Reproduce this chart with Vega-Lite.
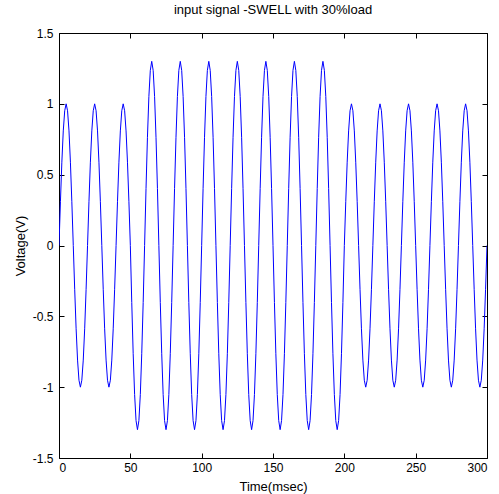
{
  "$schema": "https://vega.github.io/schema/vega-lite/v6.json",
  "autosize": "none",
  "width": 428,
  "height": 425,
  "padding": {"left": 59, "top": 33, "right": 12, "bottom": 36},
  "background": "white",
  "config": {
    "view": {"stroke": "#000", "strokeWidth": 1},
    "font": "Liberation Sans",
    "axis": {
      "domain": false, "grid": false, "ticks": true, "tickColor": "#000", "tickWidth": 1, "tickSize": 5, "offset": -5, "zindex": 2,
      "labelColor": "#000", "labelFont": "Liberation Sans", "labelFontSize": 12,
      "titleColor": "#000", "titleFont": "Liberation Sans", "titleFontSize": 13, "titleFontWeight": "normal"
    }
  },
  "title": {"text": "input signal -SWELL with 30%load", "font": "Liberation Sans", "fontSize": 13, "fontWeight": "normal", "color": "#000", "offset": 10},
  "data": {"values": [
{"t":0,"v":0},{"t":1,"v":0.309},{"t":2,"v":0.588},{"t":3,"v":0.809},{"t":4,"v":0.951},{"t":5,"v":1},{"t":6,"v":0.951},{"t":7,"v":0.809},{"t":8,"v":0.588},{"t":9,"v":0.309},
{"t":10,"v":0},{"t":11,"v":-0.309},{"t":12,"v":-0.588},{"t":13,"v":-0.809},{"t":14,"v":-0.951},{"t":15,"v":-1},{"t":16,"v":-0.951},{"t":17,"v":-0.809},{"t":18,"v":-0.588},{"t":19,"v":-0.309},
{"t":20,"v":0},{"t":21,"v":0.309},{"t":22,"v":0.588},{"t":23,"v":0.809},{"t":24,"v":0.951},{"t":25,"v":1},{"t":26,"v":0.951},{"t":27,"v":0.809},{"t":28,"v":0.588},{"t":29,"v":0.309},
{"t":30,"v":0},{"t":31,"v":-0.309},{"t":32,"v":-0.588},{"t":33,"v":-0.809},{"t":34,"v":-0.951},{"t":35,"v":-1},{"t":36,"v":-0.951},{"t":37,"v":-0.809},{"t":38,"v":-0.588},{"t":39,"v":-0.309},
{"t":40,"v":0},{"t":41,"v":0.309},{"t":42,"v":0.588},{"t":43,"v":0.809},{"t":44,"v":0.951},{"t":45,"v":1},{"t":46,"v":0.951},{"t":47,"v":0.809},{"t":48,"v":0.588},{"t":49,"v":0.309},
{"t":50,"v":0},{"t":51,"v":-0.402},{"t":52,"v":-0.764},{"t":53,"v":-1.052},{"t":54,"v":-1.236},{"t":55,"v":-1.3},{"t":56,"v":-1.236},{"t":57,"v":-1.052},{"t":58,"v":-0.764},{"t":59,"v":-0.402},
{"t":60,"v":0},{"t":61,"v":0.402},{"t":62,"v":0.764},{"t":63,"v":1.052},{"t":64,"v":1.236},{"t":65,"v":1.3},{"t":66,"v":1.236},{"t":67,"v":1.052},{"t":68,"v":0.764},{"t":69,"v":0.402},
{"t":70,"v":0},{"t":71,"v":-0.402},{"t":72,"v":-0.764},{"t":73,"v":-1.052},{"t":74,"v":-1.236},{"t":75,"v":-1.3},{"t":76,"v":-1.236},{"t":77,"v":-1.052},{"t":78,"v":-0.764},{"t":79,"v":-0.402},
{"t":80,"v":0},{"t":81,"v":0.402},{"t":82,"v":0.764},{"t":83,"v":1.052},{"t":84,"v":1.236},{"t":85,"v":1.3},{"t":86,"v":1.236},{"t":87,"v":1.052},{"t":88,"v":0.764},{"t":89,"v":0.402},
{"t":90,"v":0},{"t":91,"v":-0.402},{"t":92,"v":-0.764},{"t":93,"v":-1.052},{"t":94,"v":-1.236},{"t":95,"v":-1.3},{"t":96,"v":-1.236},{"t":97,"v":-1.052},{"t":98,"v":-0.764},{"t":99,"v":-0.402},
{"t":100,"v":0},{"t":101,"v":0.402},{"t":102,"v":0.764},{"t":103,"v":1.052},{"t":104,"v":1.236},{"t":105,"v":1.3},{"t":106,"v":1.236},{"t":107,"v":1.052},{"t":108,"v":0.764},{"t":109,"v":0.402},
{"t":110,"v":0},{"t":111,"v":-0.402},{"t":112,"v":-0.764},{"t":113,"v":-1.052},{"t":114,"v":-1.236},{"t":115,"v":-1.3},{"t":116,"v":-1.236},{"t":117,"v":-1.052},{"t":118,"v":-0.764},{"t":119,"v":-0.402},
{"t":120,"v":0},{"t":121,"v":0.402},{"t":122,"v":0.764},{"t":123,"v":1.052},{"t":124,"v":1.236},{"t":125,"v":1.3},{"t":126,"v":1.236},{"t":127,"v":1.052},{"t":128,"v":0.764},{"t":129,"v":0.402},
{"t":130,"v":0},{"t":131,"v":-0.402},{"t":132,"v":-0.764},{"t":133,"v":-1.052},{"t":134,"v":-1.236},{"t":135,"v":-1.3},{"t":136,"v":-1.236},{"t":137,"v":-1.052},{"t":138,"v":-0.764},{"t":139,"v":-0.402},
{"t":140,"v":0},{"t":141,"v":0.402},{"t":142,"v":0.764},{"t":143,"v":1.052},{"t":144,"v":1.236},{"t":145,"v":1.3},{"t":146,"v":1.236},{"t":147,"v":1.052},{"t":148,"v":0.764},{"t":149,"v":0.402},
{"t":150,"v":0},{"t":151,"v":-0.402},{"t":152,"v":-0.764},{"t":153,"v":-1.052},{"t":154,"v":-1.236},{"t":155,"v":-1.3},{"t":156,"v":-1.236},{"t":157,"v":-1.052},{"t":158,"v":-0.764},{"t":159,"v":-0.402},
{"t":160,"v":0},{"t":161,"v":0.402},{"t":162,"v":0.764},{"t":163,"v":1.052},{"t":164,"v":1.236},{"t":165,"v":1.3},{"t":166,"v":1.236},{"t":167,"v":1.052},{"t":168,"v":0.764},{"t":169,"v":0.402},
{"t":170,"v":0},{"t":171,"v":-0.402},{"t":172,"v":-0.764},{"t":173,"v":-1.052},{"t":174,"v":-1.236},{"t":175,"v":-1.3},{"t":176,"v":-1.236},{"t":177,"v":-1.052},{"t":178,"v":-0.764},{"t":179,"v":-0.402},
{"t":180,"v":0},{"t":181,"v":0.402},{"t":182,"v":0.764},{"t":183,"v":1.052},{"t":184,"v":1.236},{"t":185,"v":1.3},{"t":186,"v":1.236},{"t":187,"v":1.052},{"t":188,"v":0.764},{"t":189,"v":0.402},
{"t":190,"v":0},{"t":191,"v":-0.402},{"t":192,"v":-0.764},{"t":193,"v":-1.052},{"t":194,"v":-1.236},{"t":195,"v":-1.3},{"t":196,"v":-1.236},{"t":197,"v":-1.052},{"t":198,"v":-0.764},{"t":199,"v":-0.402},
{"t":200,"v":0},{"t":201,"v":0.309},{"t":202,"v":0.588},{"t":203,"v":0.809},{"t":204,"v":0.951},{"t":205,"v":1},{"t":206,"v":0.951},{"t":207,"v":0.809},{"t":208,"v":0.588},{"t":209,"v":0.309},
{"t":210,"v":0},{"t":211,"v":-0.309},{"t":212,"v":-0.588},{"t":213,"v":-0.809},{"t":214,"v":-0.951},{"t":215,"v":-1},{"t":216,"v":-0.951},{"t":217,"v":-0.809},{"t":218,"v":-0.588},{"t":219,"v":-0.309},
{"t":220,"v":0},{"t":221,"v":0.309},{"t":222,"v":0.588},{"t":223,"v":0.809},{"t":224,"v":0.951},{"t":225,"v":1},{"t":226,"v":0.951},{"t":227,"v":0.809},{"t":228,"v":0.588},{"t":229,"v":0.309},
{"t":230,"v":0},{"t":231,"v":-0.309},{"t":232,"v":-0.588},{"t":233,"v":-0.809},{"t":234,"v":-0.951},{"t":235,"v":-1},{"t":236,"v":-0.951},{"t":237,"v":-0.809},{"t":238,"v":-0.588},{"t":239,"v":-0.309},
{"t":240,"v":0},{"t":241,"v":0.309},{"t":242,"v":0.588},{"t":243,"v":0.809},{"t":244,"v":0.951},{"t":245,"v":1},{"t":246,"v":0.951},{"t":247,"v":0.809},{"t":248,"v":0.588},{"t":249,"v":0.309},
{"t":250,"v":0},{"t":251,"v":-0.309},{"t":252,"v":-0.588},{"t":253,"v":-0.809},{"t":254,"v":-0.951},{"t":255,"v":-1},{"t":256,"v":-0.951},{"t":257,"v":-0.809},{"t":258,"v":-0.588},{"t":259,"v":-0.309},
{"t":260,"v":0},{"t":261,"v":0.309},{"t":262,"v":0.588},{"t":263,"v":0.809},{"t":264,"v":0.951},{"t":265,"v":1},{"t":266,"v":0.951},{"t":267,"v":0.809},{"t":268,"v":0.588},{"t":269,"v":0.309},
{"t":270,"v":0},{"t":271,"v":-0.309},{"t":272,"v":-0.588},{"t":273,"v":-0.809},{"t":274,"v":-0.951},{"t":275,"v":-1},{"t":276,"v":-0.951},{"t":277,"v":-0.809},{"t":278,"v":-0.588},{"t":279,"v":-0.309},
{"t":280,"v":0},{"t":281,"v":0.309},{"t":282,"v":0.588},{"t":283,"v":0.809},{"t":284,"v":0.951},{"t":285,"v":1},{"t":286,"v":0.951},{"t":287,"v":0.809},{"t":288,"v":0.588},{"t":289,"v":0.309},
{"t":290,"v":0},{"t":291,"v":-0.309},{"t":292,"v":-0.588},{"t":293,"v":-0.809},{"t":294,"v":-0.951},{"t":295,"v":-1},{"t":296,"v":-0.951},{"t":297,"v":-0.809},{"t":298,"v":-0.588},{"t":299,"v":-0.309},
{"t":300,"v":0}
  ]},
  "layer": [
    {
      "mark": {"type": "line", "color": "#0000ff", "strokeWidth": 1, "clip": true},
      "encoding": {
        "x": {"field": "t", "type": "quantitative", "scale": {"domain": [0, 300], "nice": false},
              "axis": {"orient": "bottom", "values": [0, 50, 100, 150, 200, 250, 300], "labelPadding": 4, "title": "Time(msec)", "titlePadding": 7}},
        "y": {"field": "v", "type": "quantitative", "scale": {"domain": [-1.5, 1.5], "nice": false},
              "axis": {"orient": "left", "values": [-1.5, -1, -0.5, 0, 0.5, 1, 1.5], "labelExpr": "'' + datum.value", "labelPadding": 6, "title": "Voltage(V)", "titlePadding": 5}}
      }
    },
    {
      "mark": {"type": "line", "strokeOpacity": 0},
      "encoding": {
        "x": {"field": "t", "type": "quantitative", "axis": {"orient": "top", "values": [0, 50, 100, 150, 200, 250, 300], "labels": false, "title": null}},
        "y": {"field": "v", "type": "quantitative", "axis": {"orient": "right", "values": [-1.5, -1, -0.5, 0, 0.5, 1, 1.5], "labels": false, "title": null}}
      }
    }
  ],
  "resolve": {"axis": {"x": "independent", "y": "independent"}}
}
